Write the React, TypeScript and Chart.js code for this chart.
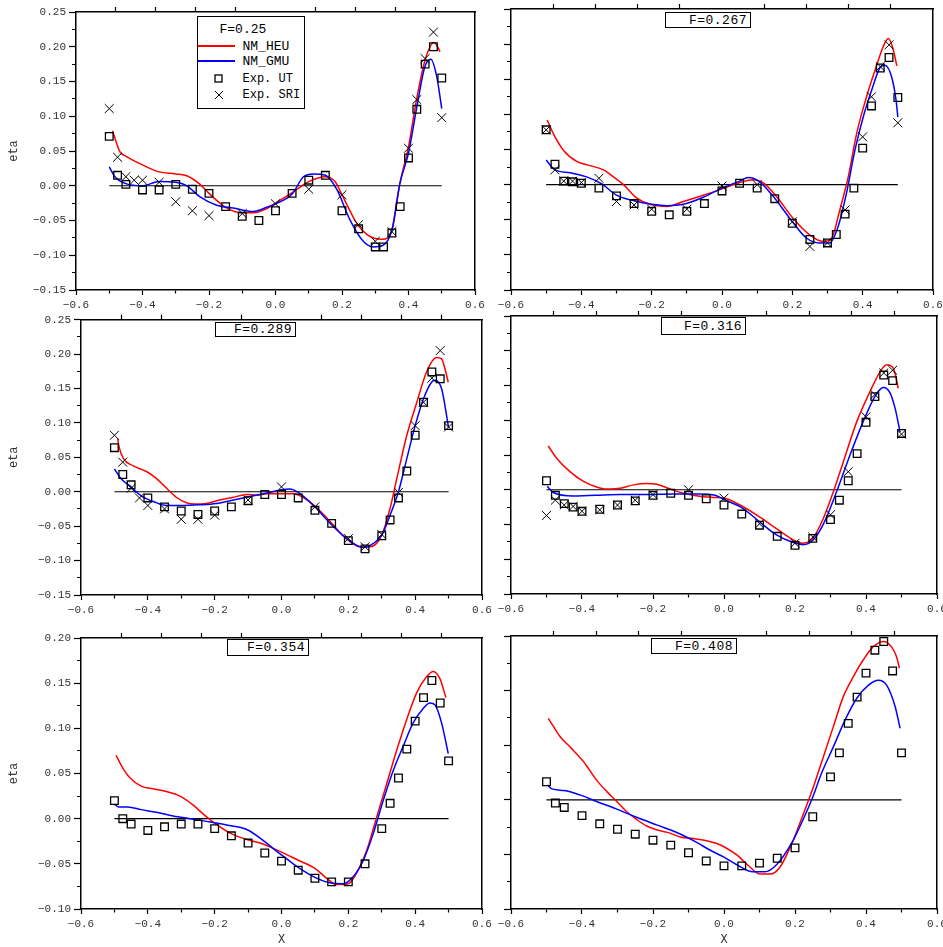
import React, { useEffect, useRef } from 'react';
import { Chart, registerables } from 'chart.js';

Chart.register(...registerables);

type Pt = [number, number];

// ---------- tick values ----------
const X_TICKS = [-0.6, -0.5, -0.4, -0.3, -0.2, -0.1, 0, 0.1, 0.2, 0.3, 0.4, 0.5, 0.6];
const TOP_TICKS = [-0.48, -0.36, -0.24, -0.12, 0.12, 0.24, 0.36, 0.48];
const Y_TICKS_A = [-0.15, -0.125, -0.1, -0.075, -0.05, -0.025, 0, 0.025, 0.05, 0.075, 0.1, 0.125, 0.15, 0.175, 0.2, 0.225, 0.25];
const Y_TICKS_B = [-0.1, -0.075, -0.05, -0.025, 0, 0.025, 0.05, 0.075, 0.1, 0.125, 0.15, 0.175, 0.2];
const Y_TICKS_C = [-0.2, -0.15, -0.1, -0.05, 0, 0.05, 0.1, 0.15, 0.2, 0.25, 0.3];

const F_LABELS = ['F=0.25', 'F=0.267', 'F=0.289', 'F=0.316', 'F=0.354', 'F=0.408'];
const SERIES_NAMES = ['NM_HEU', 'NM_GMU', 'Exp. UT', 'Exp. SRI'];

const ZERO_LINE: Pt[] = [[-0.5, 0], [0.5, 0]];

// ---------- F = 0.25 ----------
const F1_HEU: Pt[] = [[-0.49, 0.079], [-0.484, 0.07], [-0.468, 0.049], [-0.448, 0.042], [-0.4, 0.03], [-0.35, 0.02], [-0.3, 0.017], [-0.265, 0.014], [-0.227, 0.002], [-0.2, -0.011], [-0.15, -0.031], [-0.1, -0.039], [-0.067, -0.039], [-0.026, -0.033], [0, -0.025], [0.05, -0.01], [0.1, 0.006], [0.15, 0.013], [0.179, 0.006], [0.2, -0.013], [0.25, -0.058], [0.299, -0.076], [0.322, -0.077], [0.35, -0.064], [0.374, 0.003], [0.4, 0.056], [0.425, 0.126], [0.45, 0.181], [0.477, 0.206], [0.495, 0.193]];
const F1_GMU: Pt[] = [[-0.5, 0.027], [-0.483, 0.013], [-0.45, 0.003], [-0.4, 0.0], [-0.35, 0.006], [-0.3, 0.005], [-0.267, 0.0], [-0.227, -0.016], [-0.177, -0.028], [-0.127, -0.032], [-0.067, -0.037], [-0.026, -0.031], [0, -0.026], [0.05, -0.012], [0.084, 0.013], [0.114, 0.017], [0.15, 0.015], [0.184, -0.005], [0.224, -0.049], [0.264, -0.08], [0.294, -0.088], [0.322, -0.086], [0.35, -0.064], [0.374, 0.003], [0.4, 0.047], [0.425, 0.113], [0.449, 0.171], [0.467, 0.182], [0.485, 0.157], [0.5, 0.111]];
const F1_UT: Pt[] = [[-0.5, 0.071], [-0.475, 0.015], [-0.45, 0.002], [-0.4, -0.006], [-0.35, -0.006], [-0.3, 0.002], [-0.25, -0.005], [-0.2, -0.011], [-0.15, -0.03], [-0.1, -0.044], [-0.05, -0.05], [0, -0.036], [0.05, -0.011], [0.1, 0.008], [0.15, 0.015], [0.2, -0.036], [0.25, -0.062], [0.3, -0.088], [0.325, -0.088], [0.35, -0.068], [0.375, -0.03], [0.4, 0.04], [0.425, 0.11], [0.45, 0.175], [0.475, 0.2], [0.5, 0.155]];
const F1_SRI: Pt[] = [[-0.5, 0.111], [-0.475, 0.041], [-0.45, 0.013], [-0.425, 0.008], [-0.4, 0.008], [-0.35, 0.005], [-0.3, -0.023], [-0.25, -0.036], [-0.2, -0.043], [-0.1, -0.04], [0, -0.026], [0.1, -0.005], [0.2, -0.013], [0.25, -0.056], [0.3, -0.08], [0.35, -0.066], [0.4, 0.054], [0.425, 0.124], [0.45, 0.183], [0.475, 0.221], [0.5, 0.098]];

// ---------- F = 0.267 ----------
const F2_HEU: Pt[] = [[-0.497, 0.092], [-0.48, 0.073], [-0.451, 0.049], [-0.413, 0.033], [-0.375, 0.027], [-0.337, 0.021], [-0.309, 0.011], [-0.28, 0.0], [-0.243, -0.019], [-0.205, -0.028], [-0.157, -0.031], [-0.11, -0.024], [-0.053, -0.015], [0, -0.006], [0.051, 0.003], [0.089, 0.007], [0.117, 0.003], [0.155, -0.017], [0.202, -0.048], [0.25, -0.072], [0.288, -0.081], [0.312, -0.076], [0.335, -0.036], [0.359, 0.011], [0.383, 0.073], [0.411, 0.125], [0.44, 0.17], [0.458, 0.196], [0.473, 0.208], [0.487, 0.192], [0.497, 0.169]];
const F2_GMU: Pt[] = [[-0.5, 0.035], [-0.475, 0.021], [-0.432, 0.017], [-0.385, 0.011], [-0.342, 0.001], [-0.3, -0.015], [-0.25, -0.023], [-0.2, -0.028], [-0.157, -0.03], [-0.11, -0.028], [-0.053, -0.018], [0, -0.005], [0.05, 0.005], [0.075, 0.01], [0.107, 0.004], [0.146, -0.017], [0.193, -0.048], [0.24, -0.076], [0.278, -0.083], [0.306, -0.083], [0.33, -0.06], [0.354, -0.012], [0.378, 0.049], [0.402, 0.097], [0.426, 0.135], [0.45, 0.167], [0.463, 0.17], [0.482, 0.154], [0.495, 0.12], [0.5, 0.096]];
const F2_UT: Pt[] = [[-0.5, 0.078], [-0.475, 0.029], [-0.45, 0.005], [-0.425, 0.004], [-0.4, 0.002], [-0.35, -0.005], [-0.3, -0.016], [-0.25, -0.027], [-0.2, -0.038], [-0.15, -0.043], [-0.1, -0.038], [-0.05, -0.027], [0, -0.009], [0.05, 0.002], [0.1, -0.005], [0.15, -0.02], [0.2, -0.055], [0.25, -0.078], [0.3, -0.083], [0.325, -0.071], [0.35, -0.042], [0.375, -0.005], [0.4, 0.052], [0.425, 0.112], [0.45, 0.166], [0.475, 0.181], [0.5, 0.124]];
const F2_SRI: Pt[] = [[-0.5, 0.078], [-0.475, 0.021], [-0.45, 0.005], [-0.425, 0.005], [-0.4, 0.003], [-0.35, 0.009], [-0.3, -0.024], [-0.25, -0.029], [-0.2, -0.035], [-0.1, -0.035], [0, -0.002], [0.1, 0.0], [0.2, -0.053], [0.25, -0.088], [0.3, -0.083], [0.35, -0.036], [0.4, 0.068], [0.425, 0.125], [0.45, 0.168], [0.475, 0.199], [0.5, 0.088]];

// ---------- F = 0.289 ----------
const F3_HEU: Pt[] = [[-0.49, 0.077], [-0.487, 0.067], [-0.473, 0.048], [-0.445, 0.038], [-0.403, 0.029], [-0.374, 0.019], [-0.344, 0.005], [-0.315, -0.008], [-0.285, -0.016], [-0.26, -0.018], [-0.225, -0.017], [-0.185, -0.012], [-0.144, -0.008], [-0.104, -0.004], [-0.074, -0.005], [-0.044, -0.003], [0, -0.003], [0.035, -0.003], [0.085, -0.015], [0.134, -0.037], [0.183, -0.063], [0.235, -0.08], [0.265, -0.08], [0.3, -0.063], [0.325, -0.024], [0.345, 0.019], [0.375, 0.082], [0.405, 0.13], [0.434, 0.174], [0.464, 0.195], [0.479, 0.193], [0.489, 0.179], [0.499, 0.159]];
const F3_GMU: Pt[] = [[-0.5, 0.033], [-0.48, 0.019], [-0.45, 0.007], [-0.42, -0.006], [-0.38, -0.015], [-0.344, -0.02], [-0.294, -0.02], [-0.245, -0.019], [-0.195, -0.017], [-0.144, -0.012], [-0.104, -0.008], [-0.055, -0.003], [0, 0.003], [0.025, 0.004], [0.05, -0.001], [0.1, -0.022], [0.15, -0.048], [0.2, -0.07], [0.245, -0.081], [0.275, -0.075], [0.3, -0.063], [0.325, -0.034], [0.35, 0.0], [0.375, 0.048], [0.4, 0.096], [0.425, 0.135], [0.449, 0.159], [0.459, 0.162], [0.479, 0.15], [0.5, 0.093]];
const F3_UT: Pt[] = [[-0.5, 0.064], [-0.475, 0.025], [-0.45, 0.01], [-0.4, -0.009], [-0.35, -0.022], [-0.3, -0.028], [-0.25, -0.033], [-0.2, -0.028], [-0.15, -0.022], [-0.1, -0.013], [-0.05, -0.004], [0, -0.004], [0.05, -0.009], [0.1, -0.027], [0.15, -0.046], [0.2, -0.071], [0.25, -0.083], [0.3, -0.064], [0.325, -0.041], [0.35, -0.009], [0.375, 0.03], [0.4, 0.082], [0.425, 0.13], [0.45, 0.174], [0.475, 0.164], [0.5, 0.096]];
const F3_SRI: Pt[] = [[-0.5, 0.082], [-0.475, 0.043], [-0.45, 0.005], [-0.425, -0.009], [-0.4, -0.02], [-0.35, -0.025], [-0.3, -0.04], [-0.25, -0.04], [-0.2, -0.034], [-0.1, -0.012], [0, 0.007], [0.1, -0.022], [0.2, -0.068], [0.25, -0.08], [0.3, -0.062], [0.35, -0.001], [0.4, 0.096], [0.425, 0.13], [0.45, 0.165], [0.475, 0.205], [0.5, 0.094]];

// ---------- F = 0.316 ----------
const F4_HEU: Pt[] = [[-0.495, 0.063], [-0.471, 0.045], [-0.434, 0.026], [-0.396, 0.012], [-0.359, 0.004], [-0.33, 0.001], [-0.293, 0.002], [-0.255, 0.007], [-0.218, 0.009], [-0.19, 0.008], [-0.152, 0.001], [-0.114, -0.005], [-0.058, -0.01], [-0.03, -0.011], [0, -0.012], [0.045, -0.022], [0.1, -0.039], [0.148, -0.056], [0.195, -0.072], [0.218, -0.077], [0.25, -0.07], [0.28, -0.041], [0.308, -0.003], [0.336, 0.04], [0.374, 0.098], [0.411, 0.141], [0.44, 0.17], [0.458, 0.18], [0.477, 0.175], [0.491, 0.146]];
const F4_GMU: Pt[] = [[-0.498, 0.005], [-0.481, -0.004], [-0.424, -0.009], [-0.36, -0.008], [-0.29, -0.007], [-0.22, -0.007], [-0.145, -0.006], [-0.07, -0.006], [-0.025, -0.008], [0, -0.014], [0.054, -0.027], [0.1, -0.046], [0.148, -0.065], [0.195, -0.076], [0.223, -0.079], [0.255, -0.07], [0.285, -0.044], [0.317, -0.003], [0.355, 0.05], [0.392, 0.098], [0.425, 0.134], [0.449, 0.147], [0.468, 0.139], [0.482, 0.117], [0.496, 0.083]];
const F4_UT: Pt[] = [[-0.5, 0.013], [-0.475, -0.008], [-0.45, -0.02], [-0.425, -0.025], [-0.4, -0.031], [-0.35, -0.028], [-0.3, -0.022], [-0.25, -0.016], [-0.2, -0.008], [-0.15, -0.005], [-0.1, -0.008], [-0.05, -0.013], [0, -0.022], [0.05, -0.035], [0.1, -0.051], [0.15, -0.067], [0.2, -0.08], [0.25, -0.07], [0.3, -0.043], [0.325, -0.015], [0.35, 0.013], [0.375, 0.052], [0.4, 0.097], [0.425, 0.134], [0.45, 0.165], [0.475, 0.157], [0.5, 0.081]];
const F4_SRI: Pt[] = [[-0.5, -0.037], [-0.475, -0.015], [-0.45, -0.022], [-0.425, -0.024], [-0.4, -0.031], [-0.35, -0.029], [-0.3, -0.022], [-0.25, -0.015], [-0.2, -0.007], [-0.1, 0.0], [0, -0.012], [0.1, -0.049], [0.2, -0.077], [0.25, -0.068], [0.3, -0.036], [0.35, 0.026], [0.4, 0.105], [0.425, 0.137], [0.45, 0.168], [0.475, 0.172], [0.5, 0.08]];

// ---------- F = 0.354 ----------
const F5_HEU: Pt[] = [[-0.495, 0.07], [-0.478, 0.058], [-0.453, 0.045], [-0.42, 0.036], [-0.384, 0.033], [-0.344, 0.03], [-0.304, 0.025], [-0.264, 0.015], [-0.234, 0.005], [-0.2, -0.005], [-0.154, -0.016], [-0.104, -0.023], [-0.064, -0.027], [-0.03, -0.032], [0, -0.037], [0.05, -0.046], [0.1, -0.055], [0.135, -0.066], [0.165, -0.073], [0.2, -0.072], [0.225, -0.06], [0.255, -0.035], [0.285, 0.002], [0.315, 0.039], [0.345, 0.076], [0.374, 0.109], [0.404, 0.139], [0.434, 0.157], [0.454, 0.163], [0.474, 0.155], [0.492, 0.134]];
const F5_GMU: Pt[] = [[-0.5, 0.016], [-0.488, 0.013], [-0.46, 0.013], [-0.42, 0.01], [-0.374, 0.007], [-0.324, 0.003], [-0.274, 0.0], [-0.224, -0.003], [-0.164, -0.007], [-0.104, -0.012], [-0.055, -0.024], [-0.015, -0.036], [0, -0.04], [0.05, -0.054], [0.1, -0.065], [0.145, -0.071], [0.185, -0.072], [0.215, -0.064], [0.245, -0.046], [0.275, -0.016], [0.305, 0.021], [0.335, 0.054], [0.364, 0.08], [0.394, 0.106], [0.424, 0.122], [0.444, 0.128], [0.459, 0.126], [0.479, 0.106], [0.499, 0.072]];
const F5_UT: Pt[] = [[-0.5, 0.02], [-0.475, 0.0], [-0.45, -0.006], [-0.4, -0.013], [-0.35, -0.009], [-0.3, -0.006], [-0.25, -0.006], [-0.2, -0.011], [-0.15, -0.019], [-0.1, -0.027], [-0.05, -0.038], [0, -0.047], [0.05, -0.057], [0.1, -0.066], [0.15, -0.07], [0.2, -0.07], [0.25, -0.05], [0.3, -0.011], [0.325, 0.017], [0.35, 0.045], [0.375, 0.077], [0.4, 0.108], [0.425, 0.134], [0.45, 0.153], [0.475, 0.128], [0.5, 0.064]];

// ---------- F = 0.408 ----------
const F6_HEU: Pt[] = [[-0.495, 0.149], [-0.48, 0.134], [-0.462, 0.116], [-0.434, 0.097], [-0.396, 0.07], [-0.359, 0.036], [-0.33, 0.015], [-0.302, -0.003], [-0.274, -0.022], [-0.246, -0.036], [-0.218, -0.048], [-0.19, -0.055], [-0.152, -0.061], [-0.124, -0.068], [-0.086, -0.071], [-0.049, -0.075], [-0.02, -0.08], [0, -0.086], [0.036, -0.101], [0.073, -0.123], [0.101, -0.136], [0.13, -0.136], [0.158, -0.123], [0.195, -0.074], [0.224, -0.025], [0.252, 0.024], [0.28, 0.079], [0.308, 0.134], [0.336, 0.189], [0.364, 0.225], [0.392, 0.256], [0.42, 0.28], [0.449, 0.29], [0.472, 0.28], [0.486, 0.262], [0.494, 0.241]];
const F6_GMU: Pt[] = [[-0.497, 0.027], [-0.485, 0.02], [-0.45, 0.017], [-0.406, 0.009], [-0.359, -0.003], [-0.302, -0.017], [-0.246, -0.032], [-0.19, -0.046], [-0.133, -0.06], [-0.077, -0.078], [-0.04, -0.092], [0, -0.105], [0.036, -0.119], [0.082, -0.132], [0.115, -0.132], [0.148, -0.119], [0.19, -0.08], [0.218, -0.043], [0.247, 0.0], [0.275, 0.049], [0.308, 0.097], [0.341, 0.146], [0.374, 0.186], [0.407, 0.21], [0.435, 0.219], [0.458, 0.21], [0.482, 0.171], [0.496, 0.131]];
const F6_UT: Pt[] = [[-0.5, 0.033], [-0.475, -0.006], [-0.45, -0.014], [-0.4, -0.029], [-0.35, -0.044], [-0.3, -0.054], [-0.25, -0.063], [-0.2, -0.074], [-0.15, -0.083], [-0.1, -0.097], [-0.05, -0.112], [0, -0.121], [0.05, -0.121], [0.1, -0.116], [0.15, -0.107], [0.2, -0.088], [0.25, -0.031], [0.3, 0.042], [0.325, 0.086], [0.35, 0.14], [0.375, 0.188], [0.4, 0.232], [0.425, 0.274], [0.45, 0.29], [0.475, 0.236], [0.5, 0.086]];

// ---------- layout (positions in page pixels) ----------
type Rect = { l: number; t: number; r: number; b: number };
interface Spec {
  heu: Pt[]; gmu: Pt[]; ut: Pt[]; sri: Pt[] | null;
  yMin: number; yMax: number; yTicks: number[]; yMajor: number;
  yLabels: boolean; xTitle: boolean; area: Rect; cv: Rect;
}

const PANELS: Spec[] = [
  { heu: F1_HEU, gmu: F1_GMU, ut: F1_UT, sri: F1_SRI, yMin: -0.15, yMax: 0.25, yTicks: Y_TICKS_A, yMajor: 0.05, yLabels: true, xTitle: false,
    area: { l: 76, t: 12, r: 475, b: 290 }, cv: { l: 0, t: 0, r: 495, b: 318 } },
  { heu: F2_HEU, gmu: F2_GMU, ut: F2_UT, sri: F2_SRI, yMin: -0.15, yMax: 0.25, yTicks: Y_TICKS_A, yMajor: 0.05, yLabels: false, xTitle: false,
    area: { l: 511, t: 9, r: 933, b: 290 }, cv: { l: 490, t: 0, r: 970, b: 318 } },
  { heu: F3_HEU, gmu: F3_GMU, ut: F3_UT, sri: F3_SRI, yMin: -0.15, yMax: 0.25, yTicks: Y_TICKS_A, yMajor: 0.05, yLabels: true, xTitle: false,
    area: { l: 81, t: 319, r: 482, b: 595 }, cv: { l: 0, t: 310, r: 500, b: 628 } },
  { heu: F4_HEU, gmu: F4_GMU, ut: F4_UT, sri: F4_SRI, yMin: -0.15, yMax: 0.25, yTicks: Y_TICKS_A, yMajor: 0.05, yLabels: false, xTitle: false,
    area: { l: 511, t: 316, r: 937, b: 594 }, cv: { l: 490, t: 306, r: 970, b: 628 } },
  { heu: F5_HEU, gmu: F5_GMU, ut: F5_UT, sri: null, yMin: -0.1, yMax: 0.2, yTicks: Y_TICKS_B, yMajor: 0.05, yLabels: true, xTitle: true,
    area: { l: 81, t: 638, r: 482, b: 909 }, cv: { l: 0, t: 628, r: 500, b: 947 } },
  { heu: F6_HEU, gmu: F6_GMU, ut: F6_UT, sri: null, yMin: -0.2, yMax: 0.3, yTicks: Y_TICKS_C, yMajor: 0.1, yLabels: false, xTitle: true,
    area: { l: 511, t: 636, r: 937, b: 909 }, cv: { l: 490, t: 626, r: 970, b: 947 } },
];

const LABEL_BOXES: (Rect | null)[] = [
  null,
  { l: 665, t: 12, r: 751, b: 28 },
  { l: 215, t: 322, r: 296, b: 337 },
  { l: 661, t: 317, r: 746, b: 335 },
  { l: 227, t: 639, r: 309, b: 656 },
  { l: 651, t: 638, r: 737, b: 654 },
];

const FONT_MONO = "'Liberation Mono', 'DejaVu Sans Mono', monospace";
const TICK_COLOR = '#333';

const isMult = (v: number, step: number) => Math.abs(v / step - Math.round(v / step)) < 1e-6;
const fmt = (v: number, d: number) => (v < -1e-9 ? '\u2212' : '') + Math.abs(v).toFixed(d);
const xy = (a: Pt[]) => a.map(([x, y]) => ({ x, y }));

function PanelChart({ spec }: { spec: Spec }) {
  const ref = useRef<HTMLCanvasElement | null>(null);
  const { area, cv } = spec;
  const W = cv.r - cv.l;
  const H = cv.b - cv.t;

  useEffect(() => {
    const canvas = ref.current;
    if (!canvas) return;
    const leftW = area.l - cv.l;
    const rightW = cv.r - area.r;
    const topH = area.t - cv.t;
    const botH = cv.b - area.b;
    const tickFont = { family: FONT_MONO, size: 11 };

    const datasets: any[] = [];
    datasets.push({
      label: SERIES_NAMES[2], data: xy(spec.ut), showLine: false, pointStyle: 'rect', pointRadius: 5.4,
      pointBorderColor: '#000', pointBackgroundColor: 'rgba(0,0,0,0)', pointBorderWidth: 1.3,
    });
    if (spec.sri) {
      datasets.push({
        label: SERIES_NAMES[3], data: xy(spec.sri), showLine: false, pointStyle: 'crossRot', pointRadius: 6.3,
        pointBorderColor: '#000', pointBackgroundColor: '#000', pointBorderWidth: 1,
      });
    }
    datasets.push({
      label: SERIES_NAMES[1], data: xy(spec.gmu), showLine: true, borderColor: '#0000ff', borderWidth: 1.5,
      pointRadius: 0, cubicInterpolationMode: 'monotone', fill: false,
    });
    datasets.push({
      label: SERIES_NAMES[0], data: xy(spec.heu), showLine: true, borderColor: '#ff0000', borderWidth: 1.5,
      pointRadius: 0, cubicInterpolationMode: 'monotone', fill: false,
    });
    datasets.push({
      label: 'zero', data: xy(ZERO_LINE), showLine: true, borderColor: '#000', borderWidth: 1.2, pointRadius: 0, fill: false,
    });

    const chart = new Chart(canvas, {
      type: 'scatter',
      data: { datasets },
      options: {
        animation: false,
        responsive: false,
        devicePixelRatio: 1,
        events: [],
        layout: { padding: 0 },
        plugins: { legend: { display: false }, tooltip: { enabled: false } },
        scales: {
          x: {
            type: 'linear', position: 'bottom', min: -0.6, max: 0.6,
            afterBuildTicks: (s: any) => { s.ticks = X_TICKS.map((v) => ({ value: v })); },
            afterFit: (s: any) => { s.height = botH; },
            ticks: {
              autoSkip: false, maxRotation: 0, minRotation: 0, padding: 3, color: TICK_COLOR, font: tickFont,
              callback: (v: any) => (isMult(Number(v), 0.2) ? fmt(Number(v), 1) : ''),
            },
            grid: {
              drawOnChartArea: false, drawTicks: true, tickLength: 5, tickColor: '#000', tickWidth: 1.2,
              tickBorderDash: (ctx: any) => (ctx && ctx.tick && !isMult(ctx.tick.value, 0.2) ? [3, 20] : []),
            },
            border: { display: true, color: '#000', width: 1.5 },
            title: {
              display: spec.xTitle, text: 'X', color: TICK_COLOR,
              font: { family: FONT_MONO, size: 12 }, padding: { top: 0, bottom: 0 },
            },
          },
          x2: {
            type: 'linear', axis: 'x', position: 'top', min: -0.6, max: 0.6,
            afterBuildTicks: (s: any) => { s.ticks = TOP_TICKS.map((v) => ({ value: v })); },
            afterFit: (s: any) => { s.height = topH; },
            ticks: { display: false, autoSkip: false },
            grid: { drawOnChartArea: false, drawTicks: true, tickLength: 5, tickColor: '#000', tickWidth: 1.2 },
            border: { display: true, color: '#000', width: 1.5 },
          },
          y: {
            type: 'linear', position: 'left', min: spec.yMin, max: spec.yMax,
            afterBuildTicks: (s: any) => { s.ticks = spec.yTicks.map((v) => ({ value: v })); },
            afterFit: (s: any) => { s.width = leftW; },
            ticks: {
              display: spec.yLabels, autoSkip: false, padding: 3, color: TICK_COLOR, font: tickFont,
              callback: (v: any) => (isMult(Number(v), 0.05) ? fmt(Number(v), 2) : ''),
            },
            grid: {
              drawOnChartArea: false, drawTicks: true, tickLength: 7, tickColor: '#000', tickWidth: 1.2,
              tickBorderDash: (ctx: any) => (ctx && ctx.tick && !isMult(ctx.tick.value, spec.yMajor) ? [0, 3, 4, 20] : []),
            },
            border: { display: true, color: '#000', width: 1.5 },
            title: {
              display: spec.yLabels, text: 'eta', color: TICK_COLOR,
              font: { family: FONT_MONO, size: 12 }, padding: { top: 7, bottom: 0 },
            },
          },
          y2: {
            type: 'linear', axis: 'y', position: 'right', min: spec.yMin, max: spec.yMax,
            afterFit: (s: any) => { s.width = rightW; },
            ticks: { display: false },
            grid: { drawOnChartArea: false, drawTicks: false },
            border: { display: true, color: '#000', width: 1.5 },
          },
        },
      } as any,
    });
    return () => chart.destroy();
  }, [spec]);

  return (
    <canvas
      ref={ref}
      width={W}
      height={H}
      style={{ position: 'absolute', left: cv.l, top: cv.t, width: W, height: H }}
    />
  );
}

function LabelBox({ text, box }: { text: string; box: Rect }) {
  return (
    <div
      style={{
        position: 'absolute', left: box.l, top: box.t, width: box.r - box.l, height: box.b - box.t,
        boxSizing: 'border-box', border: '1.5px solid #000', background: '#fff',
        display: 'flex', alignItems: 'center', justifyContent: 'flex-end', paddingRight: 3,
        fontFamily: FONT_MONO, fontSize: 13, letterSpacing: 0.5, color: '#000', whiteSpace: 'nowrap',
      }}
    >
      {text}
    </div>
  );
}

function Legend() {
  const txt: React.CSSProperties = {
    position: 'absolute', left: 44.5, fontFamily: FONT_MONO, fontSize: 12, lineHeight: '14px', color: '#000', whiteSpace: 'nowrap',
  };
  return (
    <div
      style={{
        position: 'absolute', left: 197, top: 16, width: 108, height: 93, boxSizing: 'border-box',
        border: '1.5px solid #000', background: '#fff',
      }}
    >
      <span style={{ ...txt, left: 21.5, top: 5.5, fontSize: 13 }}>{F_LABELS[0]}</span>
      <div style={{ position: 'absolute', left: 0, top: 28, width: 37, height: 2, background: '#ff0000' }} />
      <span style={{ ...txt, top: 22.5, fontSize: 13 }}>{SERIES_NAMES[0]}</span>
      <div style={{ position: 'absolute', left: 0, top: 43, width: 37, height: 2, background: '#0000ff' }} />
      <span style={{ ...txt, top: 37.5, fontSize: 13 }}>{SERIES_NAMES[1]}</span>
      <svg style={{ position: 'absolute', left: 16, top: 57 }} width={9} height={9}>
        <rect x={1} y={1} width={7} height={7} fill="none" stroke="#000" strokeWidth={1.3} />
      </svg>
      <span style={{ ...txt, top: 54.5 }}>{SERIES_NAMES[2]}</span>
      <svg style={{ position: 'absolute', left: 15.5, top: 73 }} width={10} height={10}>
        <path d="M1 1 L9 9 M9 1 L1 9" stroke="#000" strokeWidth={1} fill="none" />
      </svg>
      <span style={{ ...txt, top: 70.5 }}>{SERIES_NAMES[3]}</span>
    </div>
  );
}

export default function App() {
  return (
    <div
      style={{
        position: 'absolute', left: 0, top: 0, width: 943, height: 947, overflow: 'hidden', background: '#fff',
      }}
    >
      {PANELS.map((p, i) => (
        <PanelChart key={i} spec={p} />
      ))}
      {LABEL_BOXES.map((b, i) => (b ? <LabelBox key={'b' + i} text={F_LABELS[i]} box={b} /> : null))}
      <Legend />
    </div>
  );
}
